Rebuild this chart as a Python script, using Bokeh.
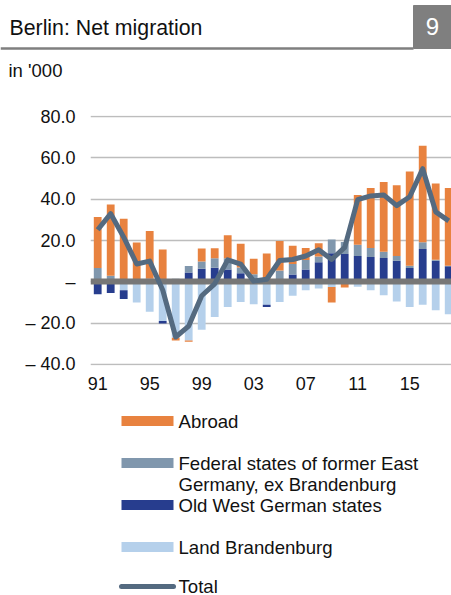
import numpy as np
from bokeh.plotting import figure
from bokeh.models import Range1d, FixedTicker
from bokeh.embed import file_html
from bokeh.resources import INLINE
from bokeh.core.properties import value

# ---------------- data (in '000) ----------------
years = list(range(1991, 2019))
abroad = [24.7, 34.5, 30.1, 18.5, 23.1, 15.6, -1.3, -0.6, 6.3, 4.9,
          11.2, 11.5, 7.6, 12.7, 14.4, 8.8, 5.8, 6.5, -7.5, -2.3,
          24.1, 29.1, 33.9, 34.3, 45.7, 46.7, 36.9, 37.7]
east = [6.7, 2.9, 0.5, 0.5, 1.5, 0.0, 1.5, 3.1, 3.5, 4.6,
        5.5, 2.8, 3.6, 1.0, 5.4, 5.1, 4.6, 2.8, 6.7, 5.8,
        5.4, 4.4, 3.0, 2.3, 1.1, 3.3, 0.5, 0.3]
west = [-6.0, -5.4, -4.3, 0.0, 0.0, -1.2, 0.0, 4.5, 6.3, 6.8,
        5.9, 4.1, 0.0, -1.0, 0.0, 3.5, 6.0, 9.4, 13.8, 13.5,
        12.5, 12.0, 11.5, 10.2, 6.7, 15.9, 10.2, 7.5]
brandenburg = [0.0, 0.0, -4.1, -10.1, -14.6, -19.0, -27.2, -28.5, -23.3, -17.1,
               -12.2, -9.8, -10.9, -11.2, -9.8, -6.8, -4.1, -3.3, -2.5, -0.5,
               -2.4, -4.1, -6.5, -9.6, -12.2, -11.2, -13.8, -15.8]
total = [25.2, 33.0, 21.6, 8.6, 10.0, -4.0, -26.8, -21.5, -6.8, -1.0,
         10.6, 8.6, 0.3, 1.2, 10.3, 10.8, 12.5, 15.5, 10.8, 16.7,
         39.8, 41.6, 42.1, 36.9, 41.2, 54.8, 33.9, 29.5]

y_ticks = [-40, -20, 0, 20, 40, 60, 80]
y_tick_labels = ["\u2013 40.0", "\u2013 20.0", "\u2013", "20.0", "40.0", "60.0", "80.0"]
x_ticks = [1991, 1995, 1999, 2003, 2007, 2011, 2015]
x_tick_labels = ["91", "95", "99", "03", "07", "11", "15"]

series_names = ["Abroad", "Federal states of former East", "Old West German states",
                "Land Brandenburg", "Total"]

# ---------------- styles ----------------
FONT = "Liberation Sans"
TXT = "#111111"
C_ABROAD = "#E8823F"
C_EAST = "#8097AD"
C_WEST = "#273D8E"
C_BRAND = "#B5D0EB"
C_TOTAL = "#546A80"
C_BASE = "#777777"
C_GRID = "#BDBDBD"

W = 451


def blank(height):
    f = figure(width=W, height=height, x_range=Range1d(0, W), y_range=Range1d(height, 0),
               output_backend="svg", toolbar_location=None,
               min_border=0, min_border_left=0, min_border_right=0,
               min_border_top=0, min_border_bottom=0)
    f.axis.visible = False
    f.grid.visible = False
    f.outline_line_color = None
    return f


# ---------------- header ----------------
h = blank(98)
h.quad(left=[413], right=[W], top=[5], bottom=[48], color="#7F7F7F")
h.segment(x0=[0], x1=[413], y0=[48], y1=[48], line_width=2.5, line_color="#7F7F7F")
h.text(x=[9], y=[27], text=["Berlin: Net migration"], text_font=value(FONT),
       text_font_size="21.3px", text_color=TXT, text_baseline="middle", text_align="left")
h.text(x=[432], y=[26], text=["9"], text_font=value(FONT),
       text_font_size="24px", text_color="white", text_baseline="middle", text_align="center")
h.text(x=[8], y=[70], text=["in '000"], text_font=value(FONT),
       text_font_size="18.5px", text_color=TXT, text_baseline="middle", text_align="left")

# ---------------- chart ----------------
p = figure(width=W, height=302, x_range=Range1d(1990.446, 2018.215),
           y_range=Range1d(-40.6, 80.6),
           output_backend="svg", toolbar_location=None,
           min_border_left=90, min_border_right=0, min_border_top=17, min_border_bottom=35)
p.outline_line_color = None
p.xgrid.grid_line_color = None
p.ygrid.grid_line_color = C_GRID
p.ygrid.grid_line_width = 1.3
p.yaxis.ticker = FixedTicker(ticks=y_ticks)
p.yaxis.major_label_overrides = {t: l for t, l in zip(y_ticks, y_tick_labels)}
p.xaxis.ticker = FixedTicker(ticks=x_ticks)
p.xaxis.major_label_overrides = {t: l for t, l in zip(x_ticks, x_tick_labels)}
for ax in (p.xaxis, p.yaxis):
    ax.axis_line_color = None
    ax.major_tick_line_color = None
    ax.minor_tick_line_color = None
    ax.major_tick_in = 0
    ax.major_tick_out = 0
    ax.minor_tick_in = 0
    ax.minor_tick_out = 0
    ax.major_label_text_font = FONT
    ax.major_label_text_font_size = "18px"
    ax.major_label_text_color = TXT
p.yaxis.major_label_standoff = 15
p.xaxis.major_label_standoff = 11

# stacked bars: from zero outward Brandenburg, West, East, Abroad (pos/neg separately)
pos = np.zeros(len(years))
neg = np.zeros(len(years))
for vals, col in [(brandenburg, C_BRAND), (west, C_WEST), (east, C_EAST), (abroad, C_ABROAD)]:
    v = np.array(vals, dtype=float)
    bottom = np.where(v >= 0, pos, neg)
    top = bottom + v
    pos = np.where(v >= 0, top, pos)
    neg = np.where(v < 0, top, neg)
    p.vbar(x=years, bottom=bottom, top=top, width=0.6, fill_color=col, line_color=None)

p.hspan(y=[0], line_width=6, line_color=C_BASE)
p.line(x=years, y=total, line_width=5, line_color=C_TOTAL, line_join="round")

# ---------------- legend ----------------
lg = blank(195)
rows = [20.5, 62.5, 104.5, 146.5]
cols = [C_ABROAD, C_EAST, C_WEST, C_BRAND]
lg.rect(x=[147] * 4, y=rows, width=52, height=10, fill_color=cols, line_color=None)
lg.line(x=[121, 173], y=[186, 186], line_width=5, line_color=C_TOTAL, line_cap="round")
lg.text(x=[178] * 6, y=[20.5, 62.5, 83.5, 104.5, 146.5, 185.5],
        text=[series_names[0], series_names[1], "Germany, ex Brandenburg",
              series_names[2], series_names[3], series_names[4]],
        text_font=value(FONT), text_font_size="18.6px", text_color=TXT,
        text_baseline="middle", text_align="left")

open("out.html", "w").write(file_html([h, p, lg], INLINE))
